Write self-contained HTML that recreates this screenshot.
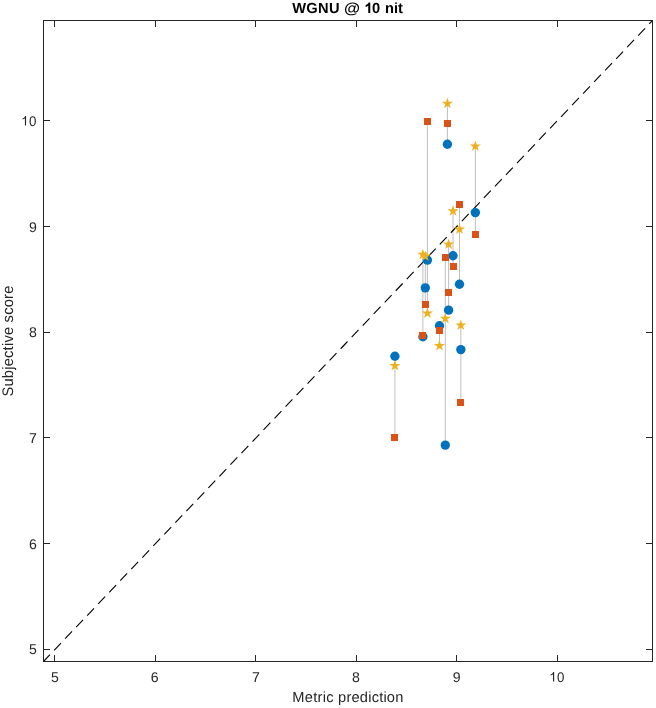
<!DOCTYPE html>
<html><head><meta charset="utf-8"><title>WGNU @ 10 nit</title>
<style>
html,body{margin:0;padding:0;background:#fff;}
body{width:656px;height:708px;position:relative;overflow:hidden;font-family:"Liberation Sans",sans-serif;}
</style></head><body>
<svg width="656" height="708" viewBox="0 0 656 708" style="position:absolute;left:0;top:0;will-change:transform">
<line x1="394.90" y1="356.20" x2="394.90" y2="437.30" stroke="#bfbfbf" stroke-width="1"/>
<line x1="422.90" y1="254.60" x2="422.90" y2="336.80" stroke="#bfbfbf" stroke-width="1"/>
<line x1="425.30" y1="256.30" x2="425.30" y2="304.50" stroke="#bfbfbf" stroke-width="1"/>
<line x1="427.40" y1="121.40" x2="427.40" y2="313.20" stroke="#bfbfbf" stroke-width="1"/>
<line x1="439.50" y1="325.80" x2="439.50" y2="345.80" stroke="#bfbfbf" stroke-width="1"/>
<line x1="445.30" y1="257.40" x2="445.30" y2="445.10" stroke="#bfbfbf" stroke-width="1"/>
<line x1="447.40" y1="103.50" x2="447.40" y2="144.20" stroke="#bfbfbf" stroke-width="1"/>
<line x1="448.60" y1="244.30" x2="448.60" y2="310.15" stroke="#bfbfbf" stroke-width="1"/>
<line x1="453.00" y1="211.00" x2="453.00" y2="266.50" stroke="#bfbfbf" stroke-width="1"/>
<line x1="459.50" y1="204.50" x2="459.50" y2="284.30" stroke="#bfbfbf" stroke-width="1"/>
<line x1="460.85" y1="325.30" x2="460.85" y2="402.40" stroke="#bfbfbf" stroke-width="1"/>
<line x1="475.35" y1="146.30" x2="475.35" y2="234.40" stroke="#bfbfbf" stroke-width="1"/>
<line x1="43.5" y1="661.5" x2="652.5" y2="20.5" stroke="#000" stroke-width="1.1" stroke-dasharray="10 6" stroke-dashoffset="0.6"/>
<circle cx="394.90" cy="356.20" r="4.68" fill="#0072BD"/>
<circle cx="422.90" cy="336.80" r="4.68" fill="#0072BD"/>
<circle cx="425.30" cy="287.85" r="4.68" fill="#0072BD"/>
<circle cx="427.40" cy="260.10" r="4.68" fill="#0072BD"/>
<circle cx="439.50" cy="325.80" r="4.68" fill="#0072BD"/>
<circle cx="445.30" cy="445.10" r="4.68" fill="#0072BD"/>
<circle cx="447.40" cy="144.20" r="4.68" fill="#0072BD"/>
<circle cx="448.60" cy="310.15" r="4.68" fill="#0072BD"/>
<circle cx="453.00" cy="255.70" r="4.68" fill="#0072BD"/>
<circle cx="459.50" cy="284.30" r="4.68" fill="#0072BD"/>
<circle cx="460.85" cy="349.60" r="4.68" fill="#0072BD"/>
<circle cx="475.35" cy="212.60" r="4.68" fill="#0072BD"/>
<rect x="391" y="434" width="7" height="7" fill="#D95319"/>
<rect x="419" y="332" width="7" height="7" fill="#D95319"/>
<rect x="422" y="301" width="7" height="7" fill="#D95319"/>
<rect x="424" y="118" width="7" height="7" fill="#D95319"/>
<rect x="436" y="327" width="7" height="7" fill="#D95319"/>
<rect x="442" y="254" width="7" height="7" fill="#D95319"/>
<rect x="444" y="120" width="7" height="7" fill="#D95319"/>
<rect x="445" y="289" width="7" height="7" fill="#D95319"/>
<rect x="450" y="263" width="7" height="7" fill="#D95319"/>
<rect x="456" y="201" width="7" height="7" fill="#D95319"/>
<rect x="457" y="399" width="7" height="7" fill="#D95319"/>
<rect x="472" y="231" width="7" height="7" fill="#D95319"/>
<polygon points="394.90,359.80 396.22,363.88 400.51,363.88 397.04,366.40 398.37,370.47 394.90,367.95 391.43,370.47 392.76,366.40 389.29,363.88 393.58,363.88" fill="#EDB120"/>
<polygon points="422.90,248.70 424.22,252.78 428.51,252.78 425.04,255.30 426.37,259.37 422.90,256.85 419.43,259.37 420.76,255.30 417.29,252.78 421.58,252.78" fill="#EDB120"/>
<polygon points="425.30,250.40 426.62,254.48 430.91,254.48 427.44,257.00 428.77,261.07 425.30,258.55 421.83,261.07 423.16,257.00 419.69,254.48 423.98,254.48" fill="#EDB120"/>
<polygon points="427.40,307.30 428.72,311.38 433.01,311.38 429.54,313.90 430.87,317.97 427.40,315.45 423.93,317.97 425.26,313.90 421.79,311.38 426.08,311.38" fill="#EDB120"/>
<polygon points="439.50,339.90 440.82,343.98 445.11,343.98 441.64,346.50 442.97,350.57 439.50,348.05 436.03,350.57 437.36,346.50 433.89,343.98 438.18,343.98" fill="#EDB120"/>
<polygon points="445.30,312.60 446.62,316.68 450.91,316.68 447.44,319.20 448.77,323.27 445.30,320.75 441.83,323.27 443.16,319.20 439.69,316.68 443.98,316.68" fill="#EDB120"/>
<polygon points="447.40,97.60 448.72,101.68 453.01,101.68 449.54,104.20 450.87,108.27 447.40,105.75 443.93,108.27 445.26,104.20 441.79,101.68 446.08,101.68" fill="#EDB120"/>
<polygon points="448.60,238.40 449.92,242.48 454.21,242.48 450.74,245.00 452.07,249.07 448.60,246.55 445.13,249.07 446.46,245.00 442.99,242.48 447.28,242.48" fill="#EDB120"/>
<polygon points="453.00,205.10 454.32,209.18 458.61,209.18 455.14,211.70 456.47,215.77 453.00,213.25 449.53,215.77 450.86,211.70 447.39,209.18 451.68,209.18" fill="#EDB120"/>
<polygon points="459.50,223.40 460.82,227.48 465.11,227.48 461.64,230.00 462.97,234.07 459.50,231.55 456.03,234.07 457.36,230.00 453.89,227.48 458.18,227.48" fill="#EDB120"/>
<polygon points="460.85,319.40 462.17,323.48 466.46,323.48 462.99,326.00 464.32,330.07 460.85,327.55 457.38,330.07 458.71,326.00 455.24,323.48 459.53,323.48" fill="#EDB120"/>
<polygon points="475.35,140.40 476.67,144.48 480.96,144.48 477.49,147.00 478.82,151.07 475.35,148.55 471.88,151.07 473.21,147.00 469.74,144.48 474.03,144.48" fill="#EDB120"/>
<g fill="#262626" shape-rendering="crispEdges">
<rect x="43" y="20" width="610" height="1"/><rect x="43" y="661" width="610" height="1"/>
<rect x="43" y="20" width="1" height="642"/><rect x="652" y="20" width="1" height="642"/>
<rect x="54" y="655" width="1" height="6"/><rect x="54" y="21" width="1" height="6"/>
<rect x="155" y="655" width="1" height="6"/><rect x="155" y="21" width="1" height="6"/>
<rect x="255" y="655" width="1" height="6"/><rect x="255" y="21" width="1" height="6"/>
<rect x="356" y="655" width="1" height="6"/><rect x="356" y="21" width="1" height="6"/>
<rect x="456" y="655" width="1" height="6"/><rect x="456" y="21" width="1" height="6"/>
<rect x="557" y="655" width="1" height="6"/><rect x="557" y="21" width="1" height="6"/>
<rect x="44" y="649" width="6" height="1"/><rect x="646" y="649" width="6" height="1"/>
<rect x="44" y="543" width="6" height="1"/><rect x="646" y="543" width="6" height="1"/>
<rect x="44" y="437" width="6" height="1"/><rect x="646" y="437" width="6" height="1"/>
<rect x="44" y="332" width="6" height="1"/><rect x="646" y="332" width="6" height="1"/>
<rect x="44" y="226" width="6" height="1"/><rect x="646" y="226" width="6" height="1"/>
<rect x="44" y="120" width="6" height="1"/><rect x="646" y="120" width="6" height="1"/>
</g>
<g font-family="Liberation Sans, sans-serif" text-rendering="geometricPrecision">
<text transform="translate(55.00,681.60) scale(1.060,1.060)" text-anchor="middle" font-size="13.33" fill="#262626">5</text>
<text transform="translate(36.90,653.60) scale(1.060,1.060)" text-anchor="end" font-size="13.33" fill="#262626">5</text>
<text transform="translate(154.70,681.60) scale(1.060,1.060)" text-anchor="middle" font-size="13.33" fill="#262626">6</text>
<text transform="translate(36.90,548.60) scale(1.060,1.060)" text-anchor="end" font-size="13.33" fill="#262626">6</text>
<text transform="translate(255.90,681.60) scale(1.060,1.060)" text-anchor="middle" font-size="13.33" fill="#262626">7</text>
<text transform="translate(36.90,442.60) scale(1.060,1.060)" text-anchor="end" font-size="13.33" fill="#262626">7</text>
<text transform="translate(355.85,681.60) scale(1.060,1.060)" text-anchor="middle" font-size="13.33" fill="#262626">8</text>
<text transform="translate(36.90,336.60) scale(1.060,1.060)" text-anchor="end" font-size="13.33" fill="#262626">8</text>
<text transform="translate(456.80,681.60) scale(1.060,1.060)" text-anchor="middle" font-size="13.33" fill="#262626">9</text>
<text transform="translate(36.90,231.60) scale(1.060,1.060)" text-anchor="end" font-size="13.33" fill="#262626">9</text>
<path transform="translate(549.19,681.60) scale(0.00651,-0.00644)" d="M763 0H583V1147Q518 1085 412.5 1023Q307 961 223 930V1104Q374 1175 487 1276Q600 1377 647 1472H763Z" fill="#262626"/>
<text transform="translate(557.00,681.60) scale(1.000,1.060)" text-anchor="start" font-size="13.33" fill="#262626">0</text>
<path transform="translate(21.12,125.60) scale(0.00651,-0.00644)" d="M763 0H583V1147Q518 1085 412.5 1023Q307 961 223 930V1104Q374 1175 487 1276Q600 1377 647 1472H763Z" fill="#262626"/>
<text transform="translate(36.40,125.60) scale(1.000,1.060)" text-anchor="end" font-size="13.33" fill="#262626">0</text>
<text transform="translate(292.30,702.40)" text-anchor="start" font-size="14.67" fill="#262626" letter-spacing="0.280">Metric</text>
<text transform="translate(338.10,702.40)" text-anchor="start" font-size="14.67" fill="#262626" letter-spacing="0.190">prediction</text>
<text transform="translate(13.30,396.60) rotate(-90) scale(1.000,1.040)" text-anchor="start" font-size="14.67" fill="#262626" letter-spacing="0.230">Subjective score</text>
<text transform="translate(292.25,13.00)" text-anchor="start" font-size="14.67" fill="#000" letter-spacing="0.270" font-weight="bold">WGNU</text>
<text transform="translate(343.90,13.00) scale(1.120,1.000)" text-anchor="start" font-size="14.67" fill="#000" font-weight="bold">@</text>
<path transform="translate(364.50,13.00) scale(0.00716,-0.00716)" d="M806 0H525V1059Q371 915 162 846V1101Q272 1137 401 1237.5Q530 1338 578 1472H806Z" fill="#000"/>
<text transform="translate(372.06,13.00)" text-anchor="start" font-size="14.67" fill="#000" font-weight="bold">0</text>
<text transform="translate(384.95,13.00)" text-anchor="start" font-size="14.67" fill="#000" font-weight="bold">nit</text>
</g>
</svg>
</body></html>
